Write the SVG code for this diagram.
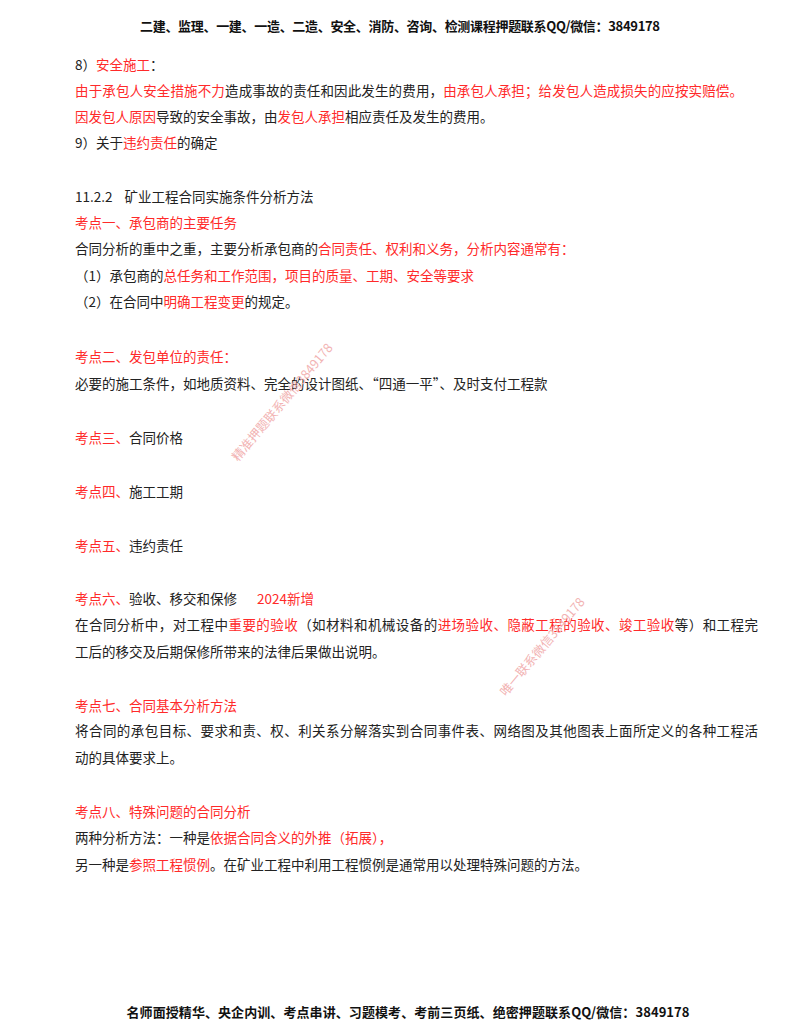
<svg xmlns="http://www.w3.org/2000/svg" width="800" height="1035" viewBox="0 0 800 1035">
<style>
text{font-family:"Noto Sans CJK SC","Liberation Sans",sans-serif;font-size:13.5px;fill:#222}
.r{fill:#ff2a2a}
.h{font-weight:bold;font-size:13px;fill:#111}
.w{fill:#f2b3b3;font-size:12.5px}
</style>
<rect width="800" height="1035" fill="#fff"/>
<text class="h" x="400" y="31" text-anchor="middle" textLength="520">二建、监理、一建、一造、二造、安全、消防、咨询、检测课程押题联系QQ/微信：3849178</text>
<text x="75" y="70">8）<tspan class="r">安全施工</tspan>：</text>
<text x="75" y="96" textLength="668"><tspan class="r">由于承包人安全措施不力</tspan>造成事故的责任和因此发生的费用，<tspan class="r">由承包人承担；给发包人造成损失的应按实赔偿。</tspan></text>
<text x="75" y="122"><tspan class="r">因发包人原因</tspan>导致的安全事故，由<tspan class="r">发包人承担</tspan>相应责任及发生的费用。</text>
<text x="75" y="148">9）关于<tspan class="r">违约责任</tspan>的确定</text>
<text x="75" y="202">11.2.2<tspan dx="12">矿业工程合同实施条件分析方法</tspan></text>
<text x="75" y="228" class="r">考点一、承包商的主要任务</text>
<text x="75" y="254">合同分析的重中之重，主要分析承包商的<tspan class="r">合同责任、权利和义务，分析内容通常有：</tspan></text>
<text x="75" y="281">（1）承包商的<tspan class="r">总任务和工作范围，项目的质量、工期、安全等要求</tspan></text>
<text x="75" y="307">（2）在合同中<tspan class="r">明确工程变更</tspan>的规定。</text>
<text x="75" y="362" class="r">考点二、发包单位的责任：</text>
<text x="75" y="389">必要的施工条件，如地质资料、完全的设计图纸、“四通一平”、及时支付工程款</text>
<text x="75" y="443"><tspan class="r">考点三、</tspan>合同价格</text>
<text x="75" y="497"><tspan class="r">考点四、</tspan>施工工期</text>
<text x="75" y="551"><tspan class="r">考点五、</tspan>违约责任</text>
<text x="75" y="604"><tspan class="r">考点六、</tspan>验收、移交和保修<tspan class="r" dx="20">2024新增</tspan></text>
<text x="75" y="630" textLength="683">在合同分析中，对工程中<tspan class="r">重要的验收</tspan>（如材料和机械设备的<tspan class="r">进场验收、隐蔽工程的验收、竣工验收</tspan>等）和工程完</text>
<text x="75" y="657">工后的移交及后期保修所带来的法律后果做出说明。</text>
<text x="75" y="711" class="r">考点七、合同基本分析方法</text>
<text x="75" y="736" textLength="683">将合同的承包目标、要求和责、权、利关系分解落实到合同事件表、网络图及其他图表上面所定义的各种工程活</text>
<text x="75" y="763">动的具体要求上。</text>
<text x="75" y="817" class="r">考点八、特殊问题的合同分析</text>
<text x="75" y="843">两种分析方法：一种是<tspan class="r">依据合同含义的外推（拓展），</tspan></text>
<text x="75" y="870">另一种是<tspan class="r">参照工程惯例</tspan>。在矿业工程中利用工程惯例是通常用以处理特殊问题的方法。</text>
<text class="w" transform="translate(238,462) rotate(-50)">精准押题联系微信3849178</text>
<text class="w" transform="translate(506,697) rotate(-50)">唯一联系微信3849178</text>
<text class="h" x="408" y="1017" text-anchor="middle" textLength="563">名师面授精华、央企内训、考点串讲、习题模考、考前三页纸、绝密押题联系QQ/微信：3849178</text>
</svg>
